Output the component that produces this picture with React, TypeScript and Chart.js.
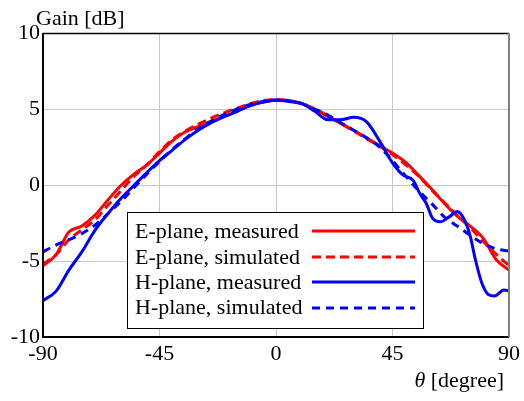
import React, { useEffect, useRef } from "react";
import { Chart, registerables } from "chart.js";

Chart.register(...registerables);

// Angles (degrees) shared by most series
const theta = [
  -90, -85, -80, -75, -70, -65, -60, -55, -50, -45, -40, -35, -30, -25, -20, -15, -10, -5, 0,
  5, 10, 15, 20, 25, 30, 35, 40, 45, 50, 55, 60, 65, 70, 75, 80, 85, 90,
];

const eMeasured = [
  -5.3, -4.6, -3.1, -2.7, -2.0, -1.0, -0.05, 0.7, 1.3, 2.1, 2.9, 3.5, 3.85, 4.2, 4.5, 4.85, 5.25, 5.45, 5.58,
  5.52, 5.35, 4.95, 4.5, 4.05, 3.6, 3.1, 2.6, 2.1, 1.5, 0.65, -0.25, -1.2, -2.05, -2.7, -3.5, -4.9, -5.6,
];

const eSimulated = [
  -5.2, -4.6, -3.6, -2.95, -2.3, -1.35, -0.4, 0.55, 1.3, 2.2, 3.0, 3.55, 4.0, 4.4, 4.75, 5.05, 5.35, 5.55, 5.63,
  5.55, 5.35, 5.0, 4.55, 4.05, 3.55, 3.05, 2.55, 2.0, 1.35, 0.6, -0.3, -1.15, -2.0, -2.8, -3.7, -4.55, -5.3,
];

const hSimulated = [
  -4.4, -3.95, -3.6, -3.2, -2.65, -1.9, -1.1, -0.2, 0.7, 1.55, 2.35, 3.05, 3.7, 4.2, 4.65, 5.0, 5.3, 5.5, 5.6,
  5.55, 5.35, 5.0, 4.6, 4.1, 3.6, 3.1, 2.5, 1.6, 0.6, -0.35, -1.2, -2.1, -2.7, -3.3, -3.85, -4.2, -4.35,
];

// H-plane measured has finer detail on the right side
const thetaH = [
  -90, -85, -80, -75, -70, -65, -60, -55, -50, -45, -40, -35, -30, -25, -20, -15, -10, -5, 0,
  5, 10, 15, 20, 25, 30, 35, 40, 45, 49, 53, 55.5, 58, 60.5, 63.5, 67, 70, 72.5, 75, 77, 79.5, 82, 84.5, 88, 90,
];
const hMeasured = [
  -7.6, -7.0, -5.6, -4.4, -3.0, -1.9, -0.9, -0.05, 0.8, 1.6, 2.3, 3.0, 3.6, 4.1, 4.5, 4.85, 5.2, 5.45, 5.58,
  5.5, 5.35, 4.85, 4.3, 4.3, 4.45, 4.15, 2.9, 1.45, 0.66, 0.3, -0.55, -1.2, -2.2, -2.42, -2.08, -1.75, -2.2,
  -3.35, -4.9, -6.45, -7.2, -7.3, -6.9, -6.97,
];

const xTicks = [-90, -45, 0, 45, 90];
const yTicks = [-10, -5, 0, 5, 10];

const legendLabels = ["E-plane, measured", "E-plane, simulated", "H-plane, measured", "H-plane, simulated"];

const RED = "rgb(255,0,0)";
const BLUE = "rgb(0,0,255)";
const FONT = '"Liberation Serif", "Times New Roman", serif';

const toPoints = (xs: number[], ys: number[]) => xs.map((x, i) => ({ x, y: ys[i] }));

export default function App() {
  const ref = useRef<HTMLCanvasElement | null>(null);

  useEffect(() => {
    document.body.style.margin = "0";
    const canvas = ref.current;
    if (!canvas) return;

    const legendStyles = [
      { color: RED, dash: [] as number[] },
      { color: RED, dash: [9, 5] },
      { color: BLUE, dash: [] as number[] },
      { color: BLUE, dash: [8, 6] },
    ];

    const decor = {
      id: "decor",
      afterDraw(chart: any) {
        const ctx = chart.ctx as CanvasRenderingContext2D;
        const a = chart.chartArea;
        ctx.save();
        // frame
        ctx.lineCap = "butt";
        ctx.strokeStyle = "#000";
        ctx.lineWidth = 1.5;
        ctx.beginPath();
        ctx.moveTo(a.left, a.top + 0.5);
        ctx.lineTo(a.right, a.top + 0.5);
        ctx.stroke();
        ctx.lineWidth = 2;
        ctx.beginPath();
        ctx.moveTo(a.left, a.top);
        ctx.lineTo(a.left, a.bottom);
        ctx.lineTo(a.right, a.bottom);
        ctx.stroke();
        ctx.strokeStyle = "#808080";
        ctx.beginPath();
        ctx.moveTo(a.right, a.top);
        ctx.lineTo(a.right, a.bottom);
        ctx.stroke();

        // axis titles
        ctx.fillStyle = "#000";
        ctx.textBaseline = "alphabetic";
        ctx.textAlign = "left";
        ctx.font = `22px ${FONT}`;
        ctx.fillText("Gain [dB]", a.left - 7, 25);

        const rest = " [degree]";
        ctx.font = `22px ${FONT}`;
        const wRest = ctx.measureText(rest).width;
        ctx.font = `italic 22px ${FONT}`;
        const wTh = ctx.measureText("θ").width;
        const endX = a.right - 5;
        ctx.fillText("θ", endX - wRest - wTh, 387);
        ctx.font = `22px ${FONT}`;
        ctx.fillText(rest, endX - wRest, 387);

        // legend
        const bx = 127.5, by = 212.5, bw = 296, bh = 116;
        ctx.fillStyle = "#fff";
        ctx.fillRect(bx, by, bw, bh);
        ctx.strokeStyle = "#000";
        ctx.lineWidth = 1;
        ctx.strokeRect(bx, by, bw, bh);
        const baselines = [238, 263.5, 289, 314];
        const lineYs = [231, 257, 282, 308];
        ctx.font = `22px ${FONT}`;
        legendLabels.forEach((lab, i) => {
          ctx.fillStyle = "#000";
          ctx.fillText(lab, 135, baselines[i]);
          ctx.strokeStyle = legendStyles[i].color;
          ctx.lineWidth = 3;
          ctx.setLineDash(legendStyles[i].dash);
          ctx.beginPath();
          ctx.moveTo(312, lineYs[i]);
          ctx.lineTo(415, lineYs[i]);
          ctx.stroke();
          ctx.setLineDash([]);
        });
        ctx.restore();
      },
    };

    const common = {
      pointRadius: 0,
      borderWidth: 3,
      fill: false,
      cubicInterpolationMode: "monotone" as const,
    };

    const chart = new Chart(canvas, {
      type: "line",
      data: {
        datasets: [
          { ...common, label: legendLabels[2], data: toPoints(thetaH, hMeasured), borderColor: BLUE },
          { ...common, label: legendLabels[3], data: toPoints(theta, hSimulated), borderColor: BLUE, borderDash: [8, 6] },
          { ...common, label: legendLabels[0], data: toPoints(theta, eMeasured), borderColor: RED },
          { ...common, label: legendLabels[1], data: toPoints(theta, eSimulated), borderColor: RED, borderDash: [9, 5] },
        ],
      },
      options: {
        responsive: false,
        animation: false,
        devicePixelRatio: 1,
        layout: { padding: { top: 33, right: 12, left: 0, bottom: 0 } },
        plugins: { legend: { display: false }, tooltip: { enabled: false }, title: { display: false } },
        scales: {
          x: {
            type: "linear",
            min: -90,
            max: 90,
            afterFit: (s: any) => { s.height = 64; },
            afterBuildTicks: (s: any) => { s.ticks = xTicks.map((v) => ({ value: v })); },
            ticks: { color: "#000", font: { family: FONT, size: 22 }, padding: 4, maxRotation: 0, autoSkip: false },
            grid: { color: "#c8c8c8", lineWidth: 1, drawTicks: false },
            border: { display: false },
          },
          y: {
            type: "linear",
            min: -10,
            max: 10,
            afterFit: (s: any) => { s.width = 43; },
            afterBuildTicks: (s: any) => { s.ticks = yTicks.map((v) => ({ value: v })); },
            ticks: { color: "#000", font: { family: FONT, size: 22 }, padding: 3, autoSkip: false },
            grid: { color: "#c8c8c8", lineWidth: 1, drawTicks: false },
            border: { display: false },
          },
        },
      },
      plugins: [decor],
    } as any);

    return () => chart.destroy();
  }, []);

  return (
    <div style={{ width: 524, height: 401 }}>
      <canvas ref={ref} width={524} height={401} style={{ display: "block" }} />
    </div>
  );
}
